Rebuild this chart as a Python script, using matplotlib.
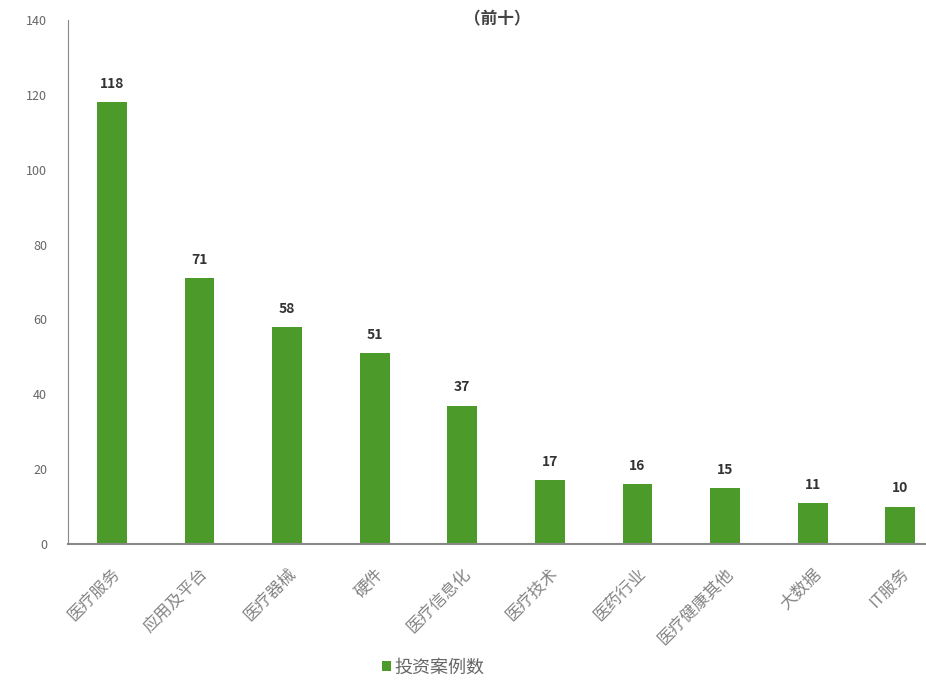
import matplotlib
matplotlib.use("Agg")
import matplotlib.pyplot as plt

plt.rcParams['font.family'] = ['Noto Sans CJK SC', 'DejaVu Sans']

categories = ["医疗服务", "应用及平台", "医疗器械", "硬件", "医疗信息化",
              "医疗技术", "医药行业", "医疗健康其他", "大数据", "IT服务"]
values = [118, 71, 58, 51, 37, 17, 16, 15, 11, 10]
series_name = "投资案例数"
title = "（前十）"
yticks = [0, 20, 40, 60, 80, 100, 120, 140]

green = "#4c9a2a"

fig = plt.figure(figsize=(9.26, 6.8), dpi=100)
ax = fig.add_axes([0.0735, 0.2, 0.946, 0.7706])
x = list(range(len(categories)))
bars = ax.bar(x, values, width=0.34, color=green, label=series_name)
for xi, v in zip(x, values):
    ax.text(xi, v + 3, str(v), ha='center', va='bottom', fontsize=10,
            color='#333333', fontweight='bold')

ax.set_xlim(-0.5, len(categories) - 0.5)
ax.set_ylim(0, 140)
ax.set_yticks(yticks)
ax.set_yticklabels([str(t) for t in yticks], fontsize=9, color='#666666')
ax.set_xticks(x)
ax.set_xticklabels(categories, rotation=45, ha='right', rotation_mode='anchor',
                   fontsize=12, color='#858585')
ax.tick_params(axis='both', length=0)
ax.tick_params(axis='y', pad=15)
ax.tick_params(axis='x', pad=15)
for s in ['top', 'right']:
    ax.spines[s].set_visible(False)
ax.spines['left'].set_color('#888888')
ax.spines['bottom'].set_color('#888888')
ax.spines['bottom'].set_linewidth(1.5)

fig.text(0.537, 0.985, title, ha='center', va='top', fontsize=12,
         color='#444444', fontweight='bold')
fig.legend(handles=[bars], labels=[series_name], loc='center',
           bbox_to_anchor=(0.468, 0.018), frameon=False, fontsize=13,
           handlelength=0.5, handleheight=0.5, handletextpad=0.2,
           labelcolor='#666666')

fig.savefig("out.png", dpi=100)
